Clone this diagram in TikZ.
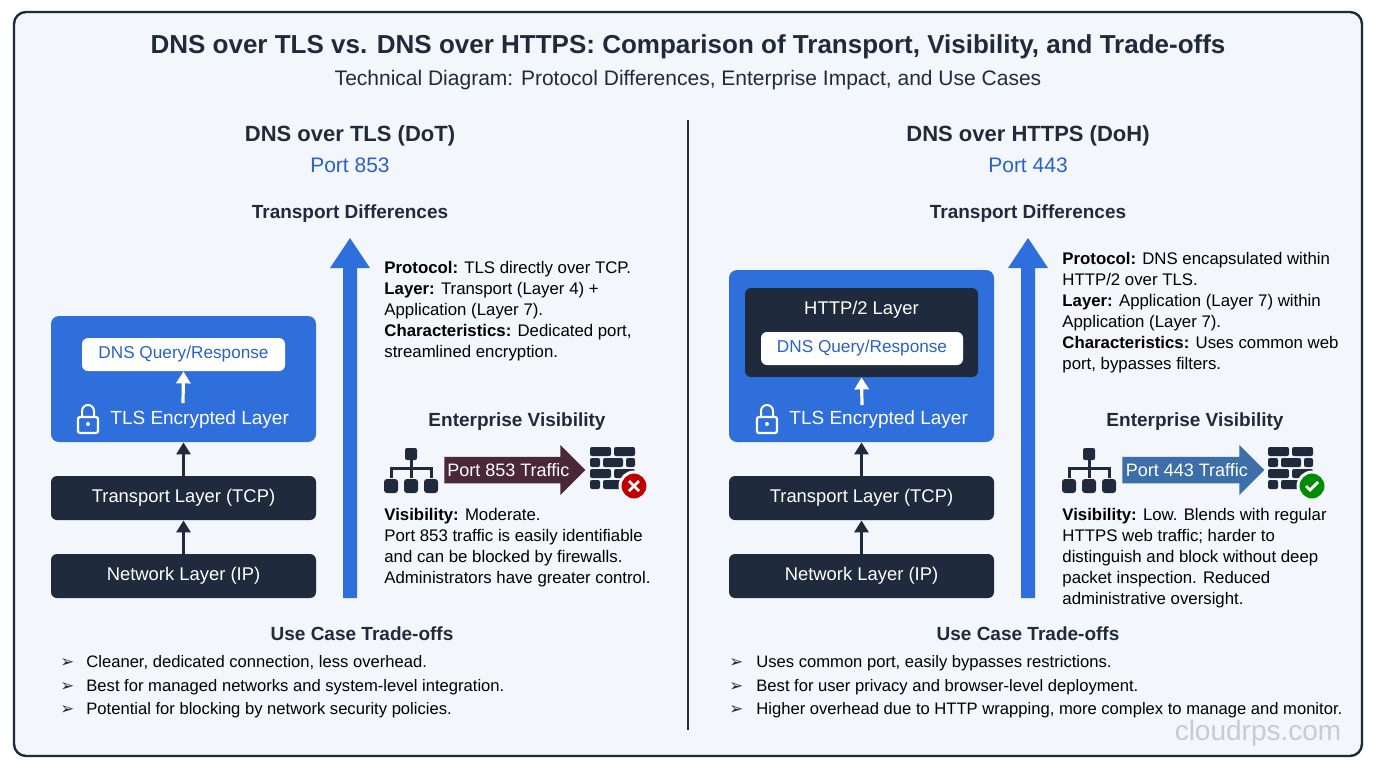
\documentclass[tikz,border=0pt]{standalone}
\usepackage{fontspec}
\setmainfont{Liberation Sans}
\newfontfamily\djv{DejaVu Sans}
\usetikzlibrary{arrows.meta,shapes.arrows}
\definecolor{bg}{HTML}{F3F6FA}
\definecolor{dark}{HTML}{1F2A3C}
\definecolor{blu}{HTML}{2F6FDB}
\definecolor{blutxt}{HTML}{2A62C9}
\definecolor{maroon}{HTML}{4A2838}
\definecolor{steel}{HTML}{3C6EA8}
\definecolor{wm}{HTML}{C8CCD2}
\tikzset{
 title/.style={font=\bfseries\fontsize{13}{15}\selectfont, text=dark},
 head/.style={font=\bfseries\fontsize{11}{13}\selectfont, text=dark},
 sub/.style={font=\fontsize{10.5}{13}\selectfont, text=dark},
 port/.style={font=\fontsize{10.5}{13}\selectfont, text=blutxt},
 body/.style={font=\fontsize{8.4}{10.5}\selectfont, text=black, anchor=north west, align=left, inner sep=0},
 darkbox/.style={fill=dark, rounded corners=3pt, text=white, font=\fontsize{9.2}{11}\selectfont},
 whitebox/.style={fill=white, rounded corners=3pt, text=blutxt, font=\fontsize{8.6}{10}\selectfont},
 bluebox/.style={fill=blu, rounded corners=4pt},
 upar/.style={-{Triangle[width=7pt,length=6pt]}, line width=1.6pt},
 bul/.style={font=\fontsize{8.3}{10}\selectfont, anchor=west, inner sep=0},
}
\begin{document}
\begin{tikzpicture}[x=0.5pt,y=-0.5pt]
\useasboundingbox (0,0) rectangle (1376,768);
\fill[white] (0,0) rectangle (1376,768);
\node[draw=dark, line width=1.2pt, fill=bg, rounded corners=6pt, minimum width=674pt, minimum height=372pt, inner sep=0] (frame) at (688,384) {};
\node[title] (t) at (688,47) {DNS over TLS vs. DNS over HTTPS: Comparison of Transport, Visibility, and Trade-offs};
\node[sub] (st) at (688,80) {Technical Diagram: Protocol Differences, Enterprise Impact, and Use Cases};
\coordinate (d1) at (688,120); \coordinate (d2) at (688,730);
\draw[dark, line width=1pt] (d1) -- (d2);
% ---------- LEFT
\node[head] (lt) at (350,136) {DNS over TLS (DoT)};
\node[port] (lp) at (350,165) {Port 853};
\node[head,font=\bfseries\fontsize{9.5}{11}\selectfont] (ltd) at (350,214) {Transport Differences};
\fill[blu] (343,598) -- (343,268) -- (330,268) -- (350,238) -- (370,268) -- (357,268) -- (357,598) -- cycle;
\node[bluebox, minimum width=132.5pt, minimum height=63pt, inner sep=0] (ltls) at (183.5,379) {};
\node[whitebox, minimum width=101.5pt, minimum height=16.5pt, inner sep=0] (ldns) at (183.5,354.5) {DNS Query/Response};
\node[text=white, font=\fontsize{9.5}{11}\selectfont, anchor=west, inner sep=0] (ltlst) at (110,420) {TLS Encrypted Layer};
\coordinate (lw1) at (183,403);
\draw[white, upar] (lw1) -- (ldns.south);
\begin{scope}[shift={(88,421)}]
\draw[white, line width=1pt] (-6,-4) -- (-6,-10) arc[start angle=180,end angle=360,radius=6] -- (6,-4);
\draw[white, line width=1.1pt, rounded corners=1pt] (-10,-4) rectangle (10,12);
\fill[white] (0,3) circle (2);
\end{scope}
\node[darkbox, minimum width=132.5pt, minimum height=22pt, inner sep=0] (ltcp) at (183.5,498) {Transport Layer (TCP)};
\node[darkbox, minimum width=132.5pt, minimum height=22pt, inner sep=0] (lip) at (183.5,576) {Network Layer (IP)};
\draw[dark, upar] (ltcp.north) -- (ltls.south);
\draw[dark, upar] (lip.north) -- (ltcp.south);
\node[body] (lproto) at (384,261) {\textbf{Protocol:} TLS directly over TCP.\\\textbf{Layer:} Transport (Layer 4) +\\Application (Layer 7).\\\textbf{Characteristics:} Dedicated port,\\streamlined encryption.};
\node[head,font=\bfseries\fontsize{9.5}{11}\selectfont] (lev) at (517,422) {Enterprise Visibility};
\begin{scope}[shift={(411,470)}]
\fill[dark, rounded corners=1pt] (-6,-22) rectangle (6,-10);
\draw[dark, line width=1.5pt] (0,-10) -- (0,-2) (-20,8) -- (-20,-2) -- (20,-2) -- (20,8) (0,-2) -- (0,8);
\foreach \xx in {-20,0,20} \fill[dark, rounded corners=1.5pt] (\xx-7,9) rectangle (\xx+7,23);
\end{scope}
\node[single arrow, fill=maroon, minimum height=70.5pt, minimum width=25pt, single arrow head extend=4pt, inner sep=1pt, anchor=west, text=white, font=\fontsize{9}{10}\selectfont] (l853) at (444,470) {Port 853 Traffic\hspace{8pt}};
\begin{scope}[shift={(590,447)}]
\foreach \r/\a/\b in {0/0/21,0/24/45,11/0/10,11/13/33,11/36/45,22/0/21,22/24/45,33/0/10,33/13/33,33/36/45} \fill[dark, rounded corners=1pt] (\a,\r) rectangle (\b,\r+9);
\end{scope}
\node[circle, fill=red!75!black, draw=bg, line width=1.5pt, minimum size=14pt, inner sep=0] (lx) at (634,486) {};
\draw[white, line width=1.3pt] ([shift={(-5,-5)}]lx.center) -- ([shift={(5,5)}]lx.center) ([shift={(-5,5)}]lx.center) -- ([shift={(5,-5)}]lx.center);
\node[body] (lvis) at (384,508) {\textbf{Visibility:} Moderate.\\Port 853 traffic is easily identifiable\\and can be blocked by firewalls.\\Administrators have greater control.};
\node[head,font=\bfseries\fontsize{9.5}{11}\selectfont] (luc) at (362,634) {Use Case Trade-offs};
\foreach \yy/\tx in {663/{Cleaner, dedicated connection, less overhead.},687/{Best for managed networks and system-level integration.},710/{Potential for blocking by network security policies.}}{
 \node[bul] at (60,\yy) {\textcolor{dark}{\djv\char"27A2}};
 \node[bul] at (86,\yy) {\tx};}
% ---------- RIGHT
\node[head] (rt) at (1028,136) {DNS over HTTPS (DoH)};
\node[port] (rp) at (1028,165) {Port 443};
\node[head,font=\bfseries\fontsize{9.5}{11}\selectfont] (rtd) at (1028,214) {Transport Differences};
\fill[blu] (1021,598) -- (1021,268) -- (1008,268) -- (1028,238) -- (1048,268) -- (1035,268) -- (1035,598) -- cycle;
\node[bluebox, minimum width=132.5pt, minimum height=86pt, inner sep=0] (rtls) at (861.5,356) {};
\node[darkbox, minimum width=116.5pt, minimum height=44.5pt, inner sep=0] (rhttp) at (861.5,332.5) {};
\node[text=white, font=\fontsize{9.2}{11}\selectfont] (rht) at (861.5,310) {HTTP/2 Layer};
\node[whitebox, minimum width=101pt, minimum height=16.5pt, inner sep=0] (rdns) at (862,348.5) {DNS Query/Response};
\node[text=white, font=\fontsize{9.5}{11}\selectfont, anchor=west, inner sep=0] (rtlst) at (789,420) {TLS Encrypted Layer};
\coordinate (rw1) at (862,405);
\draw[white, upar] (rw1) -- (rhttp.south);
\begin{scope}[shift={(767,421)}]
\draw[white, line width=1pt] (-6,-4) -- (-6,-10) arc[start angle=180,end angle=360,radius=6] -- (6,-4);
\draw[white, line width=1.1pt, rounded corners=1pt] (-10,-4) rectangle (10,12);
\fill[white] (0,3) circle (2);
\end{scope}
\node[darkbox, minimum width=132.5pt, minimum height=22pt, inner sep=0] (rtcp) at (861.5,498) {Transport Layer (TCP)};
\node[darkbox, minimum width=132.5pt, minimum height=22pt, inner sep=0] (rip) at (861.5,576) {Network Layer (IP)};
\draw[dark, upar] (rtcp.north) -- (rtls.south);
\draw[dark, upar] (rip.north) -- (rtcp.south);
\node[body] (rproto) at (1062,252) {\textbf{Protocol:} DNS encapsulated within\\HTTP/2 over TLS.\\\textbf{Layer:} Application (Layer 7) within\\Application (Layer 7).\\\textbf{Characteristics:} Uses common web\\port, bypasses filters.};
\node[head,font=\bfseries\fontsize{9.5}{11}\selectfont] (rev) at (1195,422) {Enterprise Visibility};
\begin{scope}[shift={(1089,470)}]
\fill[dark, rounded corners=1pt] (-6,-22) rectangle (6,-10);
\draw[dark, line width=1.5pt] (0,-10) -- (0,-2) (-20,8) -- (-20,-2) -- (20,-2) -- (20,8) (0,-2) -- (0,8);
\foreach \xx in {-20,0,20} \fill[dark, rounded corners=1.5pt] (\xx-7,9) rectangle (\xx+7,23);
\end{scope}
\node[single arrow, fill=steel, minimum height=71pt, minimum width=25pt, single arrow head extend=4pt, inner sep=1pt, anchor=west, text=white, font=\fontsize{9}{10}\selectfont] (r443) at (1122,470) {Port 443 Traffic\hspace{8pt}};
\begin{scope}[shift={(1268,447)}]
\foreach \r/\a/\b in {0/0/21,0/24/45,11/0/10,11/13/33,11/36/45,22/0/21,22/24/45,33/0/10,33/13/33,33/36/45} \fill[dark, rounded corners=1pt] (\a,\r) rectangle (\b,\r+9);
\end{scope}
\node[circle, fill=green!55!black, draw=bg, line width=1.5pt, minimum size=14pt, inner sep=0] (rok) at (1312,486) {};
\draw[white, line width=1.4pt] ([shift={(-6,0)}]rok.center) -- ([shift={(-2,4)}]rok.center) -- ([shift={(6,-4)}]rok.center);
\node[body] (rvis) at (1062,508) {\textbf{Visibility:} Low. Blends with regular\\HTTPS web traffic; harder to\\distinguish and block without deep\\packet inspection. Reduced\\administrative oversight.};
\node[head,font=\bfseries\fontsize{9.5}{11}\selectfont] (ruc) at (1028,634) {Use Case Trade-offs};
\foreach \yy/\tx in {663/{Uses common port, easily bypasses restrictions.},687/{Best for user privacy and browser-level deployment.},710/{Higher overhead due to HTTP wrapping, more complex to manage and monitor.}}{
 \node[bul] at (729,\yy) {\textcolor{dark}{\djv\char"27A2}};
 \node[bul] at (756,\yy) {\tx};}
\node[text=wm, font=\fontsize{14}{16}\selectfont] (wmk) at (1258,733) {cloudrps.com};
\end{tikzpicture}
\end{document}
